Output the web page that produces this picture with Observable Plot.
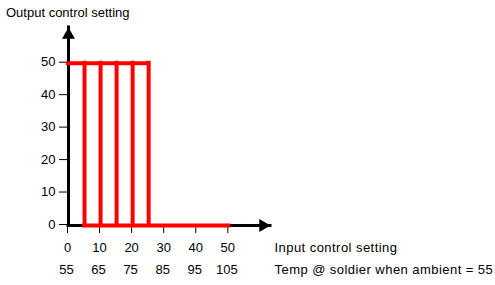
<!DOCTYPE html>
<html><head><meta charset="utf-8">
<script src="https://cdn.jsdelivr.net/npm/d3@7"></script>
<script src="https://cdn.jsdelivr.net/npm/@observablehq/plot@0.6"></script>
<style>body{margin:0;background:#fff} .wide text{letter-spacing:0.45px}</style>
</head><body><div id="chart"></div>
<script>
const yTitle = ["Output control setting"];
const xTitle = ["Input control setting"];
const tempTitle = ["Temp @ soldier when ambient = 55"];
const xTicks = [0, 10, 20, 30, 40, 50];
const tempLabels = [55, 65, 75, 85, 95, 105];
const yTicks = [0, 10, 20, 30, 40, 50];
const levels = [50, 0];            // output high, output low
const levelStart = [0, 5];         // x where each level begins
const levelEnd = [25, 50];         // x where each level ends
const switchPoints = [5, 10, 15, 20, 25];

const levelRows = levels.map((y, i) => ({y, x1: levelStart[i], x2: levelEnd[i]}));
const red = "#ff0000";
const font = "'Liberation Sans', Arial, sans-serif";

const chart = Plot.plot({
  width: 495, height: 285,
  marginLeft: 68, marginRight: 225, marginTop: 27, marginBottom: 60,
  x: {domain: [0, 63], label: null},
  y: {domain: [0, 61], label: null},
  style: {fontFamily: font, fontSize: "13px", color: "#000", background: "#fff", overflow: "visible"},
  marks: [
    Plot.ruleX([0], {stroke: "#000", strokeWidth: 3, strokeLinecap: "square"}),
    Plot.ruleY([0], {stroke: "#000", strokeWidth: 3, strokeLinecap: "square"}),
    Plot.dot([0], {frameAnchor: "top-left", symbol: "triangle", r: 4.8, fill: "#000", stroke: null, dy: 7.5}),
    Plot.dot([0], {frameAnchor: "bottom-right", symbol: "triangle", r: 4.8, fill: "#000", stroke: null, rotate: 90, dx: -7.5}),
    Plot.axisY(yTicks, {tickSize: 9, tickPadding: 4, fontSize: 13, dy: -1, label: null}),
    Plot.axisX(xTicks, {tickSize: 8, tickPadding: 9, fontSize: 13, dx: -1, label: null}),
    Plot.axisX(xTicks, {tickSize: 0, tickPadding: 39, fontSize: 13, dx: -2, label: null,
      tickFormat: d => String(tempLabels[xTicks.indexOf(d)])}),
    Plot.ruleX(switchPoints, {y1: levels[1], y2: levels[0], stroke: red, strokeWidth: 4, strokeLinecap: "square"}),
    Plot.ruleY(levelRows, {y: "y", x1: "x1", x2: "x2", stroke: red, strokeWidth: 4, strokeLinecap: "square"}),
    Plot.text(yTitle, {text: d => d, frameAnchor: "top-left", textAnchor: "start", lineAnchor: "top", dx: -62.5, dy: -20, fontSize: 13}),
    Plot.text(xTitle, {text: d => d, frameAnchor: "bottom-right", textAnchor: "start", lineAnchor: "top", dx: 4, dy: 17.3, fontSize: 13, className: "wide"}),
    Plot.text(tempTitle, {text: d => d, frameAnchor: "bottom-right", textAnchor: "start", lineAnchor: "top", dx: 4, dy: 39.3, fontSize: 13, className: "wide"})
  ]
});
document.getElementById("chart").append(chart);
</script>
</body></html>
